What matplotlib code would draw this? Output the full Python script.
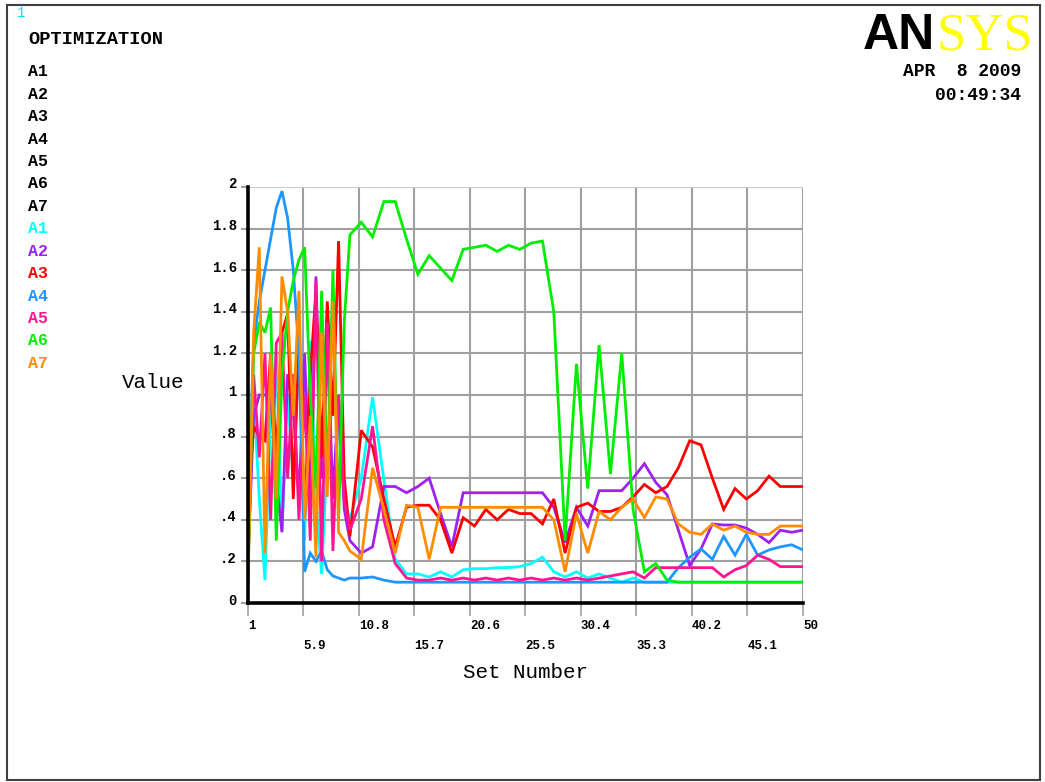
import matplotlib
matplotlib.use("Agg")
import matplotlib.pyplot as plt
from matplotlib.patches import Rectangle
from matplotlib.transforms import ScaledTranslation

#Data
set_number = [1.0, 1.5, 2.0, 2.5, 3.0, 3.5, 4.0, 4.5, 5.0, 5.5, 6.0, 6.5, 7.0, 7.5, 8.0, 8.5, 9.0, 9.5, 10.0,
              11, 12, 13, 14, 15, 16, 17, 18, 19, 20, 21, 22, 23, 24, 25, 26, 27, 28, 29, 30,
              31, 32, 33, 34, 35, 36, 37, 38, 39, 40, 41, 42, 43, 44, 45, 46, 47, 48, 49, 50]

a1 = [0.3, 1.0, 0.5, 0.11, 0.9, 1.2, 0.35, 1.0, 0.6, 1.22, 0.3, 1.26, 0.5, 0.14, 0.7, 1.0, 0.86, 0.5, 0.4,
      0.6, 0.99, 0.59, 0.21, 0.14, 0.14, 0.125, 0.15, 0.125, 0.16,
      0.165, 0.165, 0.17, 0.17, 0.175, 0.19, 0.22, 0.15, 0.125, 0.15,
      0.12, 0.14, 0.12, 0.10, 0.12, 0.10, 0.10, 0.10, 0.10, 0.10,
      0.10, 0.10, 0.10, 0.10, 0.10, 0.10, 0.10, 0.10, 0.10, 0.10]
a2 = [0.2, 0.9, 1.0, 1.0, 1.0, 0.6, 0.34, 1.1, 0.93, 0.5, 1.2, 0.45, 1.57, 0.6, 1.3, 0.5, 1.0, 0.45, 0.3,
      0.24, 0.27, 0.56, 0.56, 0.53, 0.56, 0.60, 0.43, 0.27, 0.53,
      0.53, 0.53, 0.53, 0.53, 0.53, 0.53, 0.53, 0.46, 0.29, 0.46,
      0.37, 0.54, 0.54, 0.54, 0.60, 0.67, 0.58, 0.52, 0.35, 0.18,
      0.26, 0.38, 0.375, 0.375, 0.36, 0.33, 0.29, 0.35, 0.34, 0.35]
a3 = [0.5, 0.85, 0.8, 0.78, 1.2, 0.7, 1.3, 1.39, 0.5, 1.25, 0.4, 1.1, 1.5, 0.7, 1.45, 0.9, 1.74, 0.6, 0.32,
      0.83, 0.75, 0.5, 0.27, 0.46, 0.47, 0.47, 0.40, 0.24, 0.41,
      0.37, 0.45, 0.40, 0.45, 0.43, 0.43, 0.38, 0.50, 0.24, 0.46,
      0.48, 0.44, 0.44, 0.46, 0.51, 0.57, 0.53, 0.56, 0.65, 0.78,
      0.76, 0.60, 0.45, 0.55, 0.50, 0.54, 0.61, 0.56, 0.56, 0.56]
a4 = [0.45, 1.25, 1.45, 1.6, 1.75, 1.9, 1.98, 1.85, 1.6, 1.2, 0.15, 0.24, 0.2, 0.25, 0.16, 0.13, 0.12, 0.11, 0.12,
      0.12, 0.125, 0.11, 0.10, 0.10, 0.10, 0.10, 0.10, 0.10, 0.10,
      0.10, 0.10, 0.10, 0.10, 0.10, 0.10, 0.10, 0.10, 0.10, 0.10,
      0.10, 0.10, 0.10, 0.10, 0.10, 0.10, 0.10, 0.10, 0.17, 0.22,
      0.26, 0.21, 0.32, 0.23, 0.33, 0.23, 0.255, 0.27, 0.28, 0.255]
a5 = [0.2, 1.1, 0.7, 1.2, 0.4, 1.25, 1.3, 0.6, 1.1, 0.4, 1.0, 0.3, 1.55, 0.2, 1.35, 0.25, 1.0, 0.5, 0.35,
      0.5, 0.85, 0.40, 0.19, 0.12, 0.11, 0.11, 0.12, 0.11, 0.12,
      0.11, 0.12, 0.11, 0.12, 0.11, 0.12, 0.11, 0.12, 0.11, 0.12,
      0.11, 0.12, 0.13, 0.14, 0.15, 0.12, 0.17, 0.17, 0.17, 0.17,
      0.17, 0.17, 0.125, 0.16, 0.18, 0.23, 0.21, 0.175, 0.175, 0.175]
a6 = [0.1, 1.2, 1.35, 1.3, 1.42, 0.3, 1.1, 1.4, 1.55, 1.65, 1.71, 1.0, 0.55, 1.5, 0.6, 1.6, 0.4, 1.35, 1.77,
      1.83, 1.76, 1.93, 1.93, 1.75, 1.58, 1.67, 1.61, 1.55, 1.70,
      1.71, 1.72, 1.69, 1.72, 1.70, 1.73, 1.74, 1.4, 0.3, 1.15,
      0.55, 1.24, 0.62, 1.2, 0.45, 0.15, 0.19, 0.11, 0.10, 0.10,
      0.10, 0.10, 0.10, 0.10, 0.10, 0.10, 0.10, 0.10, 0.10, 0.10]
a7 = [0.11, 1.3, 1.71, 0.24, 1.2, 0.5, 1.57, 1.4, 0.9, 1.5, 0.4, 0.9, 0.22, 1.3, 0.51, 1.45, 0.34, 0.3, 0.25,
      0.21, 0.65, 0.45, 0.24, 0.47, 0.46, 0.21, 0.46, 0.46, 0.46,
      0.46, 0.46, 0.46, 0.46, 0.46, 0.46, 0.46, 0.40, 0.15, 0.43,
      0.24, 0.44, 0.40, 0.46, 0.50, 0.41, 0.51, 0.50, 0.38, 0.34,
      0.33, 0.38, 0.35, 0.37, 0.34, 0.33, 0.33, 0.37, 0.37, 0.37]

names = ["A1", "A2", "A3", "A4", "A5", "A6", "A7"]
series = [a1, a2, a3, a4, a5, a6, a7]
colors = ["#00FFFF", "#A020F0", "#FF0000", "#1E96FF", "#FF1493", "#00EE00", "#FF8C00"]

x_ticks = [1, 5.9, 10.8, 15.7, 20.6, 25.5, 30.4, 35.3, 40.2, 45.1, 50]
y_ticks = [0, 0.2, 0.4, 0.6, 0.8, 1.0, 1.2, 1.4, 1.6, 1.8, 2.0]
y_labels = ["0", ".2", ".4", ".6", ".8", "1", "1.2", "1.4", "1.6", "1.8", "2"]

mono = "Liberation Mono"
grid_c = "#A0A0A0"

fig = plt.figure(figsize=(10.45, 7.82), dpi=100)
fig.patch.set_facecolor("white")
fig.patches.append(Rectangle((0.0067, 0.003), 0.9885, 0.991, transform=fig.transFigure,
                             fill=False, edgecolor="#404040", linewidth=1.5))

ax = fig.add_axes([0.2373, 0.2289, 0.5311, 0.532])

#Lines
for y, c in zip(series, colors):
    ax.plot(set_number, y, color=c, linewidth=2.0, solid_joinstyle="miter")

ax.set_xlim(1, 50)
ax.set_ylim(0, 2)

#Grid
for xv in x_ticks[1:]:
    ax.axvline(xv, color=grid_c, linewidth=1.5, zorder=0)
for yv in y_ticks[1:]:
    ax.axhline(yv, color=grid_c if yv < 2 else "#C8C8C8", linewidth=1.5, zorder=0)

for s in ["top", "right"]:
    ax.spines[s].set_visible(False)
for s in ["left", "bottom"]:
    ax.spines[s].set_linewidth(2.6)
    ax.spines[s].set_color("black")
    ax.spines[s].set_zorder(5)

#Ticks
xt_labels = [("\n" if i % 2 else "") + (str(int(v)) if v in (1, 50) else str(v)) for i, v in enumerate(x_ticks)]
ax.set_xticks(x_ticks)
ax.set_xticklabels(xt_labels, fontfamily=mono, fontweight="bold", fontsize=9, ha="left", linespacing=1.9)
ax.tick_params(axis="x", direction="out", length=9, width=1.2, color=grid_c, pad=3)
ax.set_yticks(y_ticks)
ax.set_yticklabels(y_labels, fontfamily=mono, fontweight="bold", fontsize=10)
ax.tick_params(axis="y", direction="out", length=5, width=1.5, color=grid_c, pad=3)
for lab in ax.get_yticklabels():
    lab.set_transform(lab.get_transform() + ScaledTranslation(0, 4 / 100, fig.dpi_scale_trans))

ax.set_xlabel("Set Number", fontfamily=mono, fontsize=15, labelpad=8)
ax.yaxis.set_label_coords(-0.171, 0.529)
ax.set_ylabel("Value", fontfamily=mono, fontsize=15, rotation=0, ha="center", va="center")

#Header texts
fig.text(17 / 1045, 1 - 13 / 782, "1", color="#00E0FF", fontsize=10, fontfamily=mono, va="center")
fig.text(28 / 1045, 1 - 39 / 782, "OPTIMIZATION", fontsize=13.5, fontfamily=mono, fontweight="bold", va="center")
for i, n in enumerate(names + names):
    c = "black" if i < 7 else colors[i - 7]
    fig.text(28 / 1045, 1 - (72 + i * 22.4) / 782, n, color=c, fontsize=12, fontfamily=mono,
             fontweight="bold", va="center")

fig.text(1021 / 1045, 1 - 72 / 782, "APR  8 2009", fontsize=13, fontfamily=mono, fontweight="bold",
         ha="right", va="center")
fig.text(1021 / 1045, 1 - 95 / 782, "00:49:34", fontsize=13, fontfamily=mono, fontweight="bold",
         ha="right", va="center")

#Logo
fig.text(935 / 1045, 1 - 49 / 782, "AN", fontsize=36, fontfamily="Liberation Sans", fontweight="bold",
         color="black", ha="right", va="baseline")
fig.text(936 / 1045, 1 - 49 / 782, "SYS", fontsize=38, fontfamily="Liberation Serif",
         color="#FFFF00", ha="left", va="baseline")

fig.savefig("out.png", dpi=100, facecolor="white")
